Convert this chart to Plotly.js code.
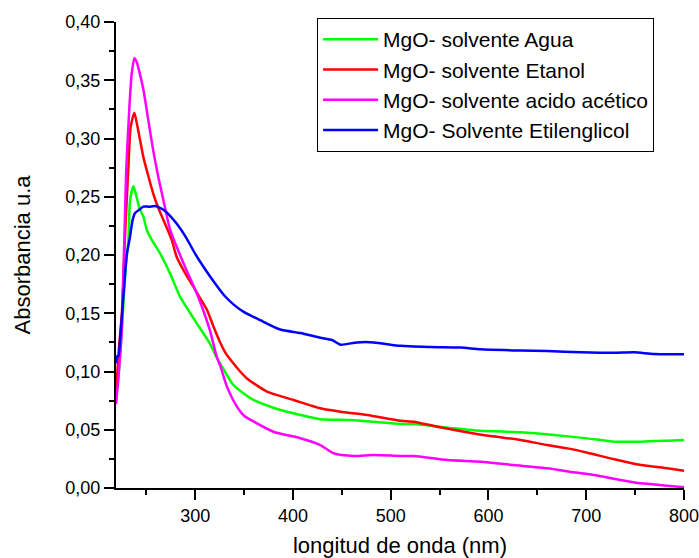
<!DOCTYPE html>
<html>
<head>
<meta charset="utf-8">
<script src="https://cdn.plot.ly/plotly-3.0.1.min.js"></script>
<style>html,body{margin:0;padding:0;background:#fff;}#chart{width:699px;height:558px;}</style>
</head>
<body>
<div id="chart"></div>
<script>
// Series names
const seriesNames = [
  "MgO- solvente Agua",
  "MgO- solvente Etanol",
  "MgO- solvente acido acético",
  "MgO- Solvente Etilenglicol"
];

// Agua (green)
const aguaX = [219, 222, 226, 229, 231.7, 233.4, 236.8, 240, 243, 247, 250.5, 255.6, 264, 274.4, 284.6, 295, 305, 315, 322, 329, 339, 350, 360, 373, 387, 407.6, 428, 458.8, 482.7, 510, 524, 558, 592, 633, 667, 701, 728.6, 756, 783, 800];
const aguaY = [0.0755, 0.10, 0.15, 0.19, 0.213, 0.247, 0.259, 0.25, 0.24, 0.233, 0.2215, 0.213, 0.2015, 0.184, 0.164, 0.15, 0.137, 0.124, 0.112, 0.102, 0.0884, 0.081, 0.0755, 0.071, 0.067, 0.0627, 0.059, 0.0584, 0.0569, 0.055, 0.0549, 0.0518, 0.0492, 0.0478, 0.0455, 0.0426, 0.0398, 0.0398, 0.0406, 0.0412];

// Etanol (red)
const etanolX = [219, 222, 225, 228, 231.7, 234, 237.8, 241, 244, 247, 252, 257, 262, 267.5, 276, 281, 290, 298, 305, 312, 319, 325, 331, 339, 346, 353, 373.5, 400.7, 428, 448.6, 476, 510, 523.7, 547.6, 574.9, 602, 633, 660, 680.8, 701.3, 728.6, 756, 783, 800];
const etanolY = [0.08, 0.12, 0.15, 0.213, 0.276, 0.31, 0.322, 0.31, 0.297, 0.284, 0.268, 0.253, 0.241, 0.230, 0.213, 0.1985, 0.184, 0.173, 0.163, 0.153, 0.138, 0.126, 0.116, 0.107, 0.100, 0.094, 0.0827, 0.0755, 0.0684, 0.0655, 0.0627, 0.0578, 0.0569, 0.0526, 0.0483, 0.0446, 0.0412, 0.0369, 0.034, 0.0303, 0.0246, 0.0197, 0.0169, 0.0149];

// Acido acetico (magenta)
const aceticoX = [219, 222, 225, 229.3, 232.7, 235, 237.8, 240, 243, 247, 252, 257, 262, 267.5, 274.4, 288, 301.7, 315, 322, 325.6, 332.5, 342.7, 350, 360, 380, 407.6, 428, 441.7, 462, 482.7, 510, 523.7, 558, 592, 626, 660, 687.6, 708, 735, 756, 783, 800];
const aceticoY = [0.072, 0.10, 0.136, 0.27, 0.327, 0.355, 0.369, 0.366, 0.357, 0.342, 0.316, 0.290, 0.268, 0.247, 0.2215, 0.193, 0.167, 0.1356, 0.1127, 0.105, 0.087, 0.0698, 0.062, 0.0569, 0.0483, 0.0427, 0.0369, 0.0298, 0.0275, 0.0283, 0.0275, 0.0275, 0.024, 0.0226, 0.0197, 0.0169, 0.0135, 0.0112, 0.0069, 0.004, 0.002, 0.0006];

// Etilenglicol (blue)
const etilenX = [219, 220, 221.4, 223, 226.5, 230, 233.4, 236, 238.5, 243, 247, 253, 259, 264, 269, 275, 281, 290, 300, 310, 320, 330, 340, 350, 366.6, 387, 407.6, 428, 440, 448.6, 465.7, 482.7, 510, 540.8, 571.5, 592, 633, 660, 694.5, 728.6, 749, 769.5, 800];
const etilenY = [0.107, 0.113, 0.113, 0.125, 0.164, 0.200, 0.216, 0.230, 0.236, 0.239, 0.2415, 0.2415, 0.242, 0.2405, 0.238, 0.233, 0.227, 0.216, 0.201, 0.188, 0.176, 0.165, 0.157, 0.151, 0.144, 0.136, 0.133, 0.129, 0.127, 0.123, 0.125, 0.125, 0.122, 0.121, 0.1205, 0.119, 0.118, 0.1176, 0.1165, 0.116, 0.1165, 0.115, 0.1148];

const colors = ["#00ff00", "#ff0000", "#ff00ff", "#0000ff"];
const xs = [aguaX, etanolX, aceticoX, etilenX];
const ys = [aguaY, etanolY, aceticoY, etilenY];

const traces = seriesNames.map((n, i) => ({
  type: "scatter",
  mode: "lines",
  name: n,
  x: xs[i],
  y: ys[i],
  line: {color: colors[i], width: 2.5, shape: "spline", smoothing: 0.6}
}));

const font = "Liberation Sans, Arial, sans-serif";

const layout = {
  width: 699,
  height: 558,
  margin: {l: 116, r: 15, t: 22, b: 70},
  paper_bgcolor: "#ffffff",
  plot_bgcolor: "#ffffff",
  separators: ",.",
  font: {family: font, size: 18, color: "#000"},
  showlegend: true,
  legend: {
    x: 0.354, y: 1.0086, xanchor: "left", yanchor: "top",
    bgcolor: "#ffffff", bordercolor: "#000", borderwidth: 1,
    font: {family: font, size: 21, color: "#000"},
    itemwidth: 55,
    tracegroupgap: 0
  },
  xaxis: {
    range: [219, 800],
    showgrid: false, zeroline: false,
    showline: true, linecolor: "#000", linewidth: 2,
    ticks: "outside", ticklen: 10, tickwidth: 2, tickcolor: "#000",
    dtick: 100, tick0: 0,
    ticklabeloverflow: "allow",
    minor: {ticks: "outside", ticklen: 5, tickwidth: 2, tickcolor: "#000", dtick: 50, showgrid: false},
    tickfont: {family: font, size: 18, color: "#000"},
    title: {text: "longitud de onda (nm)", font: {family: font, size: 22, color: "#000"}, standoff: 14}
  },
  yaxis: {
    range: [0, 0.40],
    showgrid: false, zeroline: false,
    showline: true, linecolor: "#000", linewidth: 2,
    ticks: "outside", ticklen: 10, tickwidth: 2, tickcolor: "#000",
    dtick: 0.05, tick0: 0, tickformat: ".2f",
    ticklabeloverflow: "allow",
    minor: {ticks: "outside", ticklen: 5, tickwidth: 2, tickcolor: "#000", dtick: 0.025, showgrid: false},
    tickfont: {family: font, size: 18, color: "#000"},
    title: {text: "Absorbancia u.a", font: {family: font, size: 22, color: "#000"}, standoff: 29}
  }
};

Plotly.newPlot("chart", traces, layout, {displayModeBar: false, staticPlot: true});
</script>
</body>
</html>
